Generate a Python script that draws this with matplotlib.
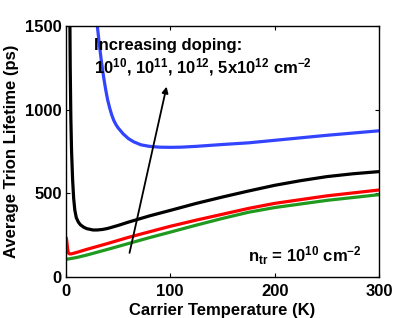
import matplotlib
matplotlib.use("Agg")
import matplotlib.pyplot as plt

plt.rcParams["font.family"] = ["Liberation Sans", "DejaVu Sans"]
plt.rcParams["font.weight"] = "bold"
plt.rcParams["mathtext.fontset"] = "custom"
plt.rcParams["mathtext.rm"] = "Liberation Sans:bold"
plt.rcParams["mathtext.bf"] = "Liberation Sans:bold"
plt.rcParams["mathtext.it"] = "Liberation Sans:bold"
plt.rcParams["mathtext.default"] = "bf"

# doping 5x10^12 (blue)
t_blue = [30, 32, 34, 36, 38, 40, 42, 44, 46, 48, 50, 55, 60, 65, 72, 80, 90, 100, 110,
          125, 150, 175, 200, 250, 300]
tau_blue = [1510, 1395, 1292, 1203, 1126, 1060, 1010, 968, 935, 911, 892, 855, 827, 808,
            790, 781, 776, 775, 776, 781, 792, 802, 817, 847, 874]
# doping 10^12 (black)
t_black = [3.8, 4.2, 4.8, 5.5, 6.5, 7.5, 8.6, 10, 12, 14, 17, 20, 26, 30, 35, 40, 50, 60,
           80, 100, 125, 150, 175, 200, 225, 250, 275, 300]
tau_black = [1600, 1250, 950, 750, 580, 470, 400, 355, 328, 312, 298, 289, 281, 281, 284,
             290, 308, 328, 365, 398, 440, 478, 514, 548, 576, 600, 617, 630]
# doping 10^11 (red)
t_red = [0, 0.5, 1, 1.5, 2, 2.5, 3.5, 5, 7, 10, 20, 40, 60, 80, 100, 125, 150, 175, 200,
         250, 300]
tau_red = [237, 232, 210, 180, 155, 143, 138, 138, 141, 146, 165, 200, 237, 270, 303,
           340, 375, 410, 440, 485, 520]
# doping 10^10 (green)
t_green = [0, 10, 20, 40, 60, 80, 100, 125, 150, 175, 200, 250, 300]
tau_green = [105, 116, 131, 165, 200, 235, 268, 310, 350, 387, 415, 458, 492]

fig = plt.figure(figsize=(3.99, 3.18), dpi=100)
ax = fig.add_axes([0.165, 0.129, 0.785, 0.789])

ax.plot(t_green, tau_green, color="#1f9a1f", lw=2.3)
ax.plot(t_red, tau_red, color="#ff0000", lw=2.3)
ax.plot(t_black, tau_black, color="black", lw=2.3)
ax.plot(t_blue, tau_blue, color="#3344ff", lw=2.3)

ax.annotate("", xy=(96.5, 1138), xytext=(61, 144),
            arrowprops=dict(arrowstyle="-|>", color="black", lw=1.3,
                            mutation_scale=9, shrinkA=0, shrinkB=0))

fs = 12
ax.text(0.089, 0.924, "Increasing doping:", transform=ax.transAxes,
        fontsize=fs, fontweight="bold", va="center", ha="left")
ax.text(0.089, 0.835, r"10$^{10}$, 10$^{11}$, 10$^{12}$, 5x10$^{12}$ cm$^{-2}$",
        transform=ax.transAxes, fontsize=fs, fontweight="bold", va="center", ha="left")
ax.text(0.945, 0.06, r"n$_{\mathrm{tr}}$ = 10$^{10}$ cm$^{-2}$", transform=ax.transAxes,
        fontsize=fs, fontweight="bold", va="baseline", ha="right")

ax.set_xlim(0, 300)
ax.set_ylim(0, 1500)
ax.set_xticks([0, 100, 200, 300])
ax.set_yticks([0, 500, 1000, 1500])
ax.tick_params(direction="in", top=True, right=True, labelsize=fs, length=3, width=0.8)
ax.tick_params(axis="x", pad=5)
ax.tick_params(axis="y", pad=3)
for lab in ax.get_xticklabels() + ax.get_yticklabels():
    lab.set_fontweight("bold")
ax.set_xlabel("Carrier Temperature (K)", fontsize=fs, fontweight="bold", labelpad=3)
ax.set_ylabel("Average Trion Lifetime (ps)", fontsize=fs, fontweight="bold", labelpad=4)
for s in ax.spines.values():
    s.set_linewidth(1.0)

fig.savefig("out.png", dpi=100)
